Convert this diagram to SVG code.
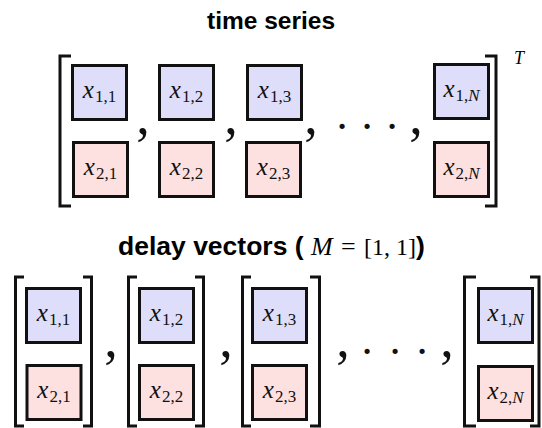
<svg xmlns="http://www.w3.org/2000/svg" width="542" height="428" viewBox="0 0 542 428">
  <style>
    .title { font-family: "Liberation Sans", Arial, sans-serif; font-weight: bold; font-size: 24.5px; fill: #000; }
    .title.wide { font-size: 26.5px; }
    .math { font-family: "Liberation Serif", "Times New Roman", serif; font-weight: normal; fill: #000; }
    .var { font-style: italic; }
    .cell text { font-family: "Liberation Serif", "Times New Roman", serif; font-size: 25px; fill: #111; text-anchor: middle; }
    .cell .sub { font-size: 17px; font-style: normal; }
    .cell .it { font-style: italic; }
    .top rect { fill: #dedefa; stroke: #111; stroke-width: 3; }
    .bot rect { fill: #fde0e0; stroke: #111; stroke-width: 3; }
    .bracket { fill: none; stroke: #111; stroke-width: 3; }
    .comma { font-family: "Liberation Serif", "Times New Roman", serif; font-size: 54px; fill: #111; text-anchor: middle; }
    .dot { font-family: "Liberation Serif", "Times New Roman", serif; font-size: 44px; fill: #111; text-anchor: middle; }
  </style>

  <!-- headings -->
  <text class="title" x="271" y="29" text-anchor="middle">time series</text>
  <text class="title wide" x="118" y="255">delay vectors (<tspan class="math var" x="311" font-size="26">M</tspan><tspan class="math" x="341" font-size="26">=</tspan><tspan class="math" x="364" font-size="24">[1, 1]</tspan><tspan x="416">)</tspan></text>

  <!-- time series: one big matrix, transposed -->
  <g id="ts-brackets">
    <path class="bracket" d="M71 56 H60 V206 H71"/>
    <path class="bracket" d="M485 56 H496 V206 H485"/>
    <text class="math var" x="514" y="64" font-size="18">T</text>
  </g>

  <g id="ts-x11" class="cell top"><rect x="72.5" y="65.5" width="54" height="54"/><text x="99.5" y="98"><tspan class="it">x</tspan><tspan class="sub" dx="1" dy="4">1,1</tspan></text></g>
  <g id="ts-x21" class="cell bot"><rect x="73.5" y="142.5" width="54" height="54"/><text x="100.5" y="175"><tspan class="it">x</tspan><tspan class="sub" dx="1" dy="4">2,1</tspan></text></g>
  <g id="ts-x12" class="cell top"><rect x="159.5" y="65.5" width="54" height="54"/><text x="186.5" y="98"><tspan class="it">x</tspan><tspan class="sub" dx="1" dy="4">1,2</tspan></text></g>
  <g id="ts-x22" class="cell bot"><rect x="159.5" y="142.5" width="54" height="54"/><text x="186.5" y="175"><tspan class="it">x</tspan><tspan class="sub" dx="1" dy="4">2,2</tspan></text></g>
  <g id="ts-x13" class="cell top"><rect x="247.5" y="65.5" width="54" height="54"/><text x="274.5" y="98"><tspan class="it">x</tspan><tspan class="sub" dx="1" dy="4">1,3</tspan></text></g>
  <g id="ts-x23" class="cell bot"><rect x="246.5" y="142.5" width="54" height="54"/><text x="273.5" y="175"><tspan class="it">x</tspan><tspan class="sub" dx="1" dy="4">2,3</tspan></text></g>
  <g id="ts-x1N" class="cell top"><rect x="434.5" y="64.5" width="54" height="54"/><text x="461.5" y="97"><tspan class="it">x</tspan><tspan class="sub" dx="1" dy="4">1,</tspan><tspan class="sub it">N</tspan></text></g>
  <g id="ts-x2N" class="cell bot"><rect x="434.5" y="142.5" width="54" height="54"/><text x="461.5" y="175"><tspan class="it">x</tspan><tspan class="sub" dx="1" dy="4">2,</tspan><tspan class="sub it">N</tspan></text></g>

  <g id="ts-separators">
    <text class="comma" x="143" y="134">,</text>
    <text class="comma" x="231" y="134">,</text>
    <text class="comma" x="311" y="134">,</text>
    <text class="dot" x="342" y="141">·</text>
    <text class="dot" x="367" y="141">·</text>
    <text class="dot" x="392" y="141">·</text>
    <text class="comma" x="416" y="134">,</text>
  </g>

  <!-- delay vectors: one column vector each -->
  <g id="dv-brackets">
    <path class="bracket" d="M24 277 H15.5 V426 H24"/>
    <path class="bracket" d="M83 277 H91.5 V426 H83"/>
    <path class="bracket" d="M137 277 H128.5 V426 H137"/>
    <path class="bracket" d="M195 277 H203.5 V426 H195"/>
    <path class="bracket" d="M251 277 H242.5 V426 H251"/>
    <path class="bracket" d="M310 277 H319.5 V426 H310"/>
    <path class="bracket" d="M476 277 H464.5 V426 H476"/>
    <path class="bracket" d="M530 277 H539 V426 H530"/>
  </g>

  <g id="dv-x11" class="cell top"><rect x="26.5" y="288.5" width="54" height="54"/><text x="53.5" y="321"><tspan class="it">x</tspan><tspan class="sub" dx="1" dy="4">1,1</tspan></text></g>
  <g id="dv-x21" class="cell bot"><rect x="27" y="365.5" width="54" height="54"/><text x="54" y="398"><tspan class="it">x</tspan><tspan class="sub" dx="1" dy="4">2,1</tspan></text></g>
  <g id="dv-x12" class="cell top"><rect x="139.5" y="288.5" width="54" height="54"/><text x="166.5" y="321"><tspan class="it">x</tspan><tspan class="sub" dx="1" dy="4">1,2</tspan></text></g>
  <g id="dv-x22" class="cell bot"><rect x="139.5" y="365.5" width="54" height="54"/><text x="166.5" y="398"><tspan class="it">x</tspan><tspan class="sub" dx="1" dy="4">2,2</tspan></text></g>
  <g id="dv-x13" class="cell top"><rect x="252.5" y="288.5" width="54" height="54"/><text x="279.5" y="321"><tspan class="it">x</tspan><tspan class="sub" dx="1" dy="4">1,3</tspan></text></g>
  <g id="dv-x23" class="cell bot"><rect x="252.5" y="365.5" width="54" height="54"/><text x="279.5" y="398"><tspan class="it">x</tspan><tspan class="sub" dx="1" dy="4">2,3</tspan></text></g>
  <g id="dv-x1N" class="cell top"><rect x="478.5" y="288.5" width="54" height="54"/><text x="505.5" y="321"><tspan class="it">x</tspan><tspan class="sub" dx="1" dy="4">1,</tspan><tspan class="sub it">N</tspan></text></g>
  <g id="dv-x2N" class="cell bot"><rect x="478.5" y="366.5" width="54" height="54"/><text x="505.5" y="399"><tspan class="it">x</tspan><tspan class="sub" dx="1" dy="4">2,</tspan><tspan class="sub it">N</tspan></text></g>

  <g id="dv-separators">
    <text class="comma" x="111" y="357">,</text>
    <text class="comma" x="226" y="357">,</text>
    <text class="comma" x="343" y="357">,</text>
    <text class="dot" x="367" y="366">·</text>
    <text class="dot" x="395" y="366">·</text>
    <text class="dot" x="422" y="366">·</text>
    <text class="comma" x="447" y="357">,</text>
  </g>
</svg>
